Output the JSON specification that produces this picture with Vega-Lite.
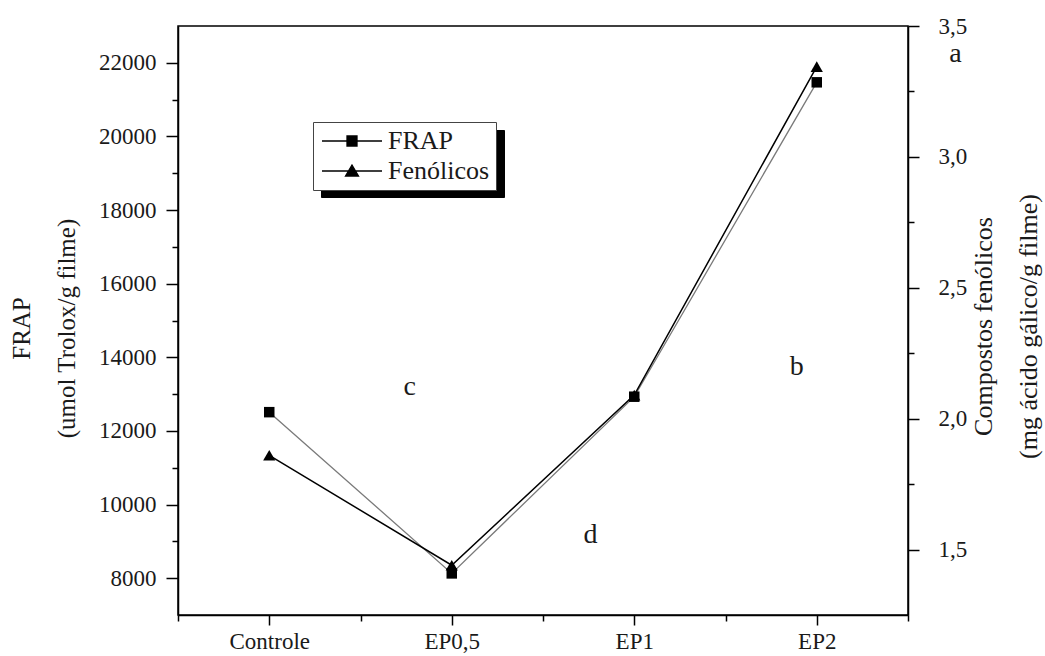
{
  "$schema": "https://vega.github.io/schema/vega-lite/v6.json",
  "autosize": {"type": "none"},
  "padding": {"left": 178, "top": 26, "right": 137, "bottom": 41},
  "width": 730,
  "height": 589,
  "background": "white",
  "config": {
    "view": {"stroke": "black", "strokeWidth": 1.5},
    "font": "Liberation Serif",
    "axis": {
      "labelFont": "Liberation Serif",
      "titleFont": "Liberation Serif",
      "labelColor": "#1a1a1a",
      "titleColor": "#1a1a1a",
      "titleFontWeight": "normal",
      "domainColor": "black",
      "domainWidth": 1.5,
      "tickColor": "black",
      "tickWidth": 1.5,
      "grid": false,
      "labelFontSize": 23,
      "titleFontSize": 25,
      "labelOverlap": false,
      "labelFlush": false
    },
    "legend": {"labelFont": "Liberation Serif"}
  },
  "datasets": {
    "frap": [
      {"amostra": "Controle", "ordem": 0, "valor": 12510},
      {"amostra": "EP0,5", "ordem": 1, "valor": 8130},
      {"amostra": "EP1", "ordem": 2, "valor": 12930},
      {"amostra": "EP2", "ordem": 3, "valor": 21470}
    ],
    "fen": [
      {"amostra": "Controle", "ordem": 0, "valor": 1.86},
      {"amostra": "EP0,5", "ordem": 1, "valor": 1.44},
      {"amostra": "EP1", "ordem": 2, "valor": 2.09},
      {"amostra": "EP2", "ordem": 3, "valor": 3.345}
    ],
    "letras": [
      {"letra": "a", "ordem": 3.76, "valor": 22230},
      {"letra": "b", "ordem": 2.89, "valor": 13740},
      {"letra": "c", "ordem": 0.77, "valor": 13190},
      {"letra": "d", "ordem": 1.76, "valor": 9170}
    ],
    "legenda": [
      {"serie": "FRAP", "sombra": "s"},
      {"serie": "Fenólicos", "sombra": "s"}
    ]
  },
  "layer": [
    {
      "layer": [
        {
          "data": {"name": "frap"},
          "mark": {"type": "line", "color": "#7a7a7a", "strokeWidth": 1.3},
          "encoding": {
            "x": {"field": "ordem", "type": "quantitative", "scale": {"domain": [-0.5, 3.5], "nice": false, "zero": false},
              "axis": {"orient": "bottom", "values": [-0.5, 0, 0.5, 1, 1.5, 2, 2.5, 3, 3.5], "labelExpr": "datum.value % 1 == 0 ? ['Controle','EP0,5','EP1','EP2'][datum.value] : ''", "tickSize": {"condition": {"test": "datum.value % 1 != 0", "value": 6}, "value": 10}, "labelPadding": 5, "labelFont": "Liberation Serif", "title": null}},
            "y": {"field": "valor", "type": "quantitative", "scale": {"domain": [7000, 23000], "nice": false, "zero": false},
              "axis": {"orient": "left", "format": "d", "values": [8000, 9000, 10000, 11000, 12000, 13000, 14000, 15000, 16000, 17000, 18000, 19000, 20000, 21000, 22000], "labelExpr": "datum.value % 2000 == 0 ? datum.label : ''", "tickSize": {"condition": {"test": "datum.value % 2000 != 0", "value": 6}, "value": 12}, "labelPadding": 10, "labelFont": "Liberation Serif", "title": ["FRAP", "(umol Trolox/g filme)"], "titleAngle": -90, "titleX": -157, "titleY": 302, "titleAlign": "center", "titleBaseline": "middle", "titleLineHeight": 45, "titleFontSize": 25}}
          }
        },
        {
          "data": {"name": "frap"},
          "mark": {"type": "point", "shape": "square", "filled": true, "color": "black", "size": 110, "opacity": 1},
          "encoding": {
            "x": {"field": "ordem", "type": "quantitative", "scale": {"domain": [-0.5, 3.5], "nice": false, "zero": false},
              "axis": {"orient": "bottom", "values": [-0.5, 0, 0.5, 1, 1.5, 2, 2.5, 3, 3.5], "labelExpr": "datum.value % 1 == 0 ? ['Controle','EP0,5','EP1','EP2'][datum.value] : ''", "tickSize": {"condition": {"test": "datum.value % 1 != 0", "value": 6}, "value": 10}, "labelPadding": 5, "labelFont": "Liberation Serif", "title": null}},
            "y": {"field": "valor", "type": "quantitative", "scale": {"domain": [7000, 23000], "nice": false, "zero": false},
              "axis": {"orient": "left", "format": "d", "values": [8000, 9000, 10000, 11000, 12000, 13000, 14000, 15000, 16000, 17000, 18000, 19000, 20000, 21000, 22000], "labelExpr": "datum.value % 2000 == 0 ? datum.label : ''", "tickSize": {"condition": {"test": "datum.value % 2000 != 0", "value": 6}, "value": 12}, "labelPadding": 10, "labelFont": "Liberation Serif", "title": ["FRAP", "(umol Trolox/g filme)"], "titleAngle": -90, "titleX": -157, "titleY": 302, "titleAlign": "center", "titleBaseline": "middle", "titleLineHeight": 45, "titleFontSize": 25}}
          }
        },
        {
          "data": {"name": "letras"},
          "mark": {"type": "text", "fontSize": 28, "font": "Liberation Serif", "color": "#1a1a1a", "align": "center", "baseline": "middle"},
          "encoding": {
            "x": {"field": "ordem", "type": "quantitative", "scale": {"domain": [-0.5, 3.5], "nice": false, "zero": false},
              "axis": {"orient": "bottom", "values": [-0.5, 0, 0.5, 1, 1.5, 2, 2.5, 3, 3.5], "labelExpr": "datum.value % 1 == 0 ? ['Controle','EP0,5','EP1','EP2'][datum.value] : ''", "tickSize": {"condition": {"test": "datum.value % 1 != 0", "value": 6}, "value": 10}, "labelPadding": 5, "labelFont": "Liberation Serif", "title": null}},
            "y": {"field": "valor", "type": "quantitative", "scale": {"domain": [7000, 23000], "nice": false, "zero": false},
              "axis": {"orient": "left", "format": "d", "values": [8000, 9000, 10000, 11000, 12000, 13000, 14000, 15000, 16000, 17000, 18000, 19000, 20000, 21000, 22000], "labelExpr": "datum.value % 2000 == 0 ? datum.label : ''", "tickSize": {"condition": {"test": "datum.value % 2000 != 0", "value": 6}, "value": 12}, "labelPadding": 10, "labelFont": "Liberation Serif", "title": ["FRAP", "(umol Trolox/g filme)"], "titleAngle": -90, "titleX": -157, "titleY": 302, "titleAlign": "center", "titleBaseline": "middle", "titleLineHeight": 45, "titleFontSize": 25}},
            "text": {"field": "letra", "type": "nominal"}
          }
        },
        {
          "data": {"name": "legenda"},
          "mark": {"type": "point", "opacity": 0, "filled": true},
          "encoding": {
            "shape": {"field": "serie", "type": "nominal",
              "scale": {"domain": ["FRAP", "Fenólicos"], "range": ["M-3,0H3M-0.5,-0.5H0.5V0.5H-0.5Z", "M-3,0H3M0,-0.6L0.65,0.5H-0.65Z"]},
              "legend": {"title": null, "orient": "none", "legendX": 135, "legendY": 96, "direction": "vertical", "fillColor": "white", "strokeColor": "#444", "padding": 6, "symbolSize": 400, "symbolStrokeWidth": 1.3, "symbolFillColor": "black", "symbolStrokeColor": "black", "symbolOpacity": 1, "symbolOffset": 20, "labelOffset": 23, "labelFontSize": 26, "labelFont": "Liberation Serif", "labelColor": "#1a1a1a", "rowPadding": 4, "zindex": 2}},
            "fill": {"field": "sombra", "type": "nominal",
              "scale": {"range": ["black"]},
              "legend": {"title": null, "orient": "none", "legendX": 143, "legendY": 104, "direction": "vertical", "fillColor": "black", "strokeColor": "black", "padding": 6, "symbolSize": 400, "symbolType": "M-3,-1H13.6V4H-3Z", "symbolStrokeWidth": 1, "symbolStrokeColor": "black", "symbolOpacity": 1, "symbolOffset": 20, "labelOffset": 0, "labelExpr": "''", "labelFontSize": 26, "zindex": 1}}
          }
        }
      ]
    },
    {
      "layer": [
        {
          "data": {"name": "fen"},
          "mark": {"type": "line", "color": "black", "strokeWidth": 1.5},
          "encoding": {
            "x": {"field": "ordem", "type": "quantitative", "scale": {"domain": [-0.5, 3.5], "nice": false, "zero": false},
              "axis": {"orient": "bottom", "values": [-0.5, 0, 0.5, 1, 1.5, 2, 2.5, 3, 3.5], "labelExpr": "datum.value % 1 == 0 ? ['Controle','EP0,5','EP1','EP2'][datum.value] : ''", "tickSize": {"condition": {"test": "datum.value % 1 != 0", "value": 6}, "value": 10}, "labelPadding": 5, "labelFont": "Liberation Serif", "title": null}},
            "y": {"field": "valor", "type": "quantitative", "scale": {"domain": [1.25, 3.5], "nice": false, "zero": false},
              "axis": {"orient": "right", "values": [1.5, 1.75, 2, 2.25, 2.5, 2.75, 3, 3.25, 3.5], "labelExpr": "(datum.value*4) % 2 == 0 ? replace(format(datum.value, '.1f'), '.', ',') : ''", "tickSize": {"condition": {"test": "(datum.value*4) % 2 != 0", "value": 6}, "value": 11}, "labelPadding": 19, "labelFont": "Liberation Serif", "title": ["Compostos fenólicos", "(mg ácido gálico/g filme)"], "titleAngle": -90, "titleX": 75, "titleY": 300, "titleAlign": "center", "titleBaseline": "middle", "titleLineHeight": 45, "titleFontSize": 26}}
          }
        },
        {
          "data": {"name": "fen"},
          "mark": {"type": "point", "shape": "triangle-up", "filled": true, "color": "black", "size": 150, "opacity": 1},
          "encoding": {
            "x": {"field": "ordem", "type": "quantitative", "scale": {"domain": [-0.5, 3.5], "nice": false, "zero": false},
              "axis": {"orient": "bottom", "values": [-0.5, 0, 0.5, 1, 1.5, 2, 2.5, 3, 3.5], "labelExpr": "datum.value % 1 == 0 ? ['Controle','EP0,5','EP1','EP2'][datum.value] : ''", "tickSize": {"condition": {"test": "datum.value % 1 != 0", "value": 6}, "value": 10}, "labelPadding": 5, "labelFont": "Liberation Serif", "title": null}},
            "y": {"field": "valor", "type": "quantitative", "scale": {"domain": [1.25, 3.5], "nice": false, "zero": false},
              "axis": {"orient": "right", "values": [1.5, 1.75, 2, 2.25, 2.5, 2.75, 3, 3.25, 3.5], "labelExpr": "(datum.value*4) % 2 == 0 ? replace(format(datum.value, '.1f'), '.', ',') : ''", "tickSize": {"condition": {"test": "(datum.value*4) % 2 != 0", "value": 6}, "value": 11}, "labelPadding": 19, "labelFont": "Liberation Serif", "title": ["Compostos fenólicos", "(mg ácido gálico/g filme)"], "titleAngle": -90, "titleX": 75, "titleY": 300, "titleAlign": "center", "titleBaseline": "middle", "titleLineHeight": 45, "titleFontSize": 26}}
          }
        }
      ]
    }
  ],
  "resolve": {"scale": {"y": "independent"}}
}
